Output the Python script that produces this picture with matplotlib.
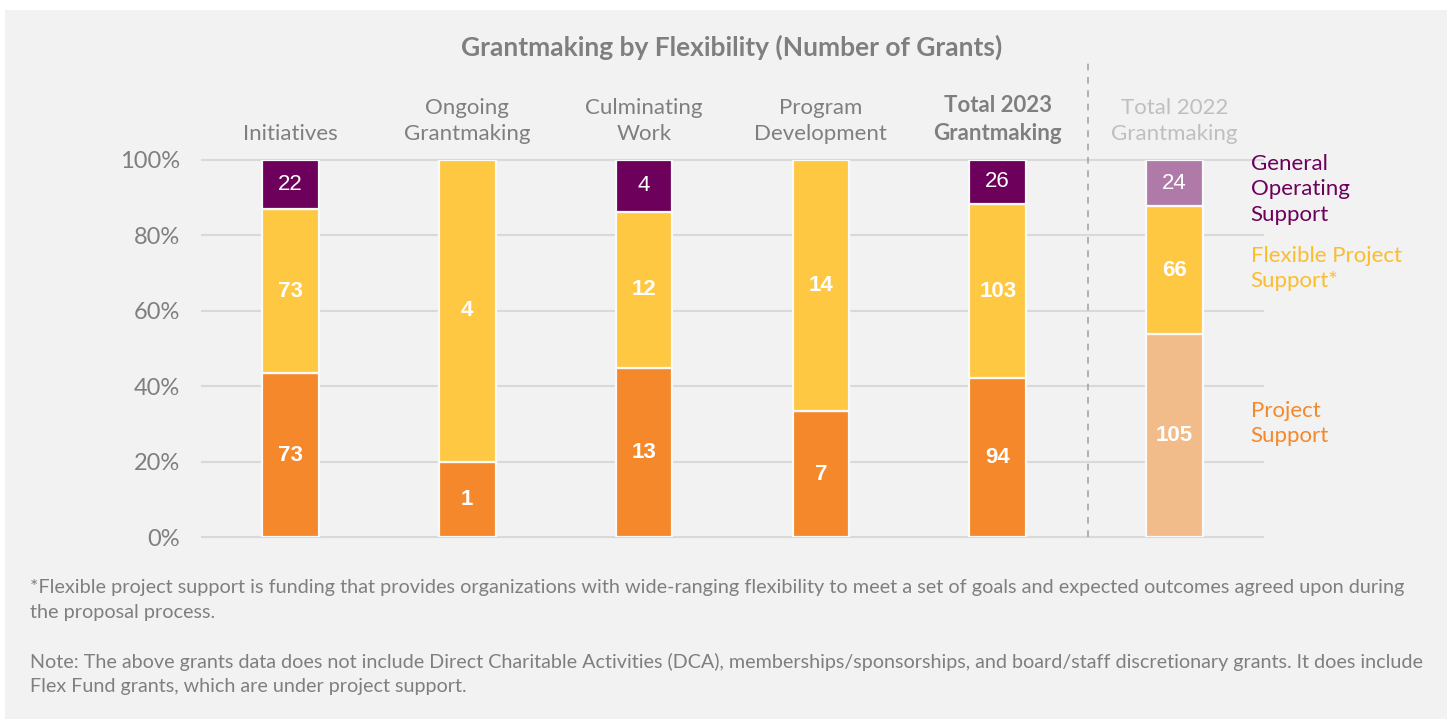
import matplotlib.pyplot as plt
import numpy as np
from matplotlib.patches import Rectangle
from matplotlib.lines import Line2D

# --- data ---
categories = ['Initiatives', 'Ongoing\nGrantmaking', 'Culminating\nWork', 'Program\nDevelopment',
              'Total 2023\nGrantmaking', 'Total 2022\nGrantmaking']
project_support = [73, 1, 13, 7, 94, 105]
flexible_support = [73, 4, 12, 14, 103, 66]
general_operating = [22, 0, 4, 0, 26, 24]
series_names = ['Project\nSupport', 'Flexible Project\nSupport*', 'General\nOperating\nSupport']
y_ticks = [0, 20, 40, 60, 80, 100]

bg = '#f2f2f2'
gray = '#7f7f7f'
col_2023 = ['#f5882a', '#fec843', '#6d005b']
col_2022 = ['#f2bb8a', '#fec843', '#b07aa8']
label_cols = ['#f5882a', '#fbbd2c', '#6d005b']
text_font = 'Lato'
num_font = 'Liberation Sans'

fig = plt.figure(figsize=(14.52, 7.19), dpi=100)
fig.patch.set_facecolor('white')
fig.patches.append(Rectangle((5 / 1452, 0), 1442 / 1452, 709 / 719, transform=fig.transFigure,
                             facecolor=bg, edgecolor='none', zorder=-10))

ax = fig.add_axes([202 / 1452, 1 - 537 / 719, 1061 / 1452, 377 / 719])
ax.set_facecolor('none')

counts = np.array([project_support, flexible_support, general_operating], dtype=float)
pct = counts / counts.sum(axis=0) * 100
x = np.arange(len(categories))
width = 0.32

for yv in y_ticks:
    ax.axhline(yv, color='#d9d9d9', lw=1.5, zorder=0, clip_on=False)

bottom = np.zeros(len(categories))
for s in range(3):
    for i in range(len(categories)):
        if counts[s, i] == 0:
            continue
        c = col_2022[s] if i == len(categories) - 1 else col_2023[s]
        ax.bar(x[i], pct[s, i], width, bottom=bottom[i], color=c, edgecolor='#fafafa',
               linewidth=1.6, zorder=2)
        ax.text(x[i], bottom[i] + pct[s, i] / 2, f'{int(counts[s, i])}', ha='center', va='center',
                color='white', fontsize=16, family=num_font,
                fontweight='normal' if s == 2 else 'bold', zorder=3)
    bottom += pct[s]

ax.set_xlim(-0.5, 5.5)
ax.set_ylim(0, 100)
ax.set_yticks(y_ticks)
ax.set_yticklabels([f'{v}%' for v in y_ticks], fontsize=17, color=gray, family=text_font)
ax.tick_params(axis='y', length=0, pad=16)
ax.set_xticks([])
for sp in ax.spines.values():
    sp.set_visible(False)

# category labels above bars
for i, cat in enumerate(categories):
    col = gray
    weight = 'normal'
    if i == 4:
        weight = 'bold'
    if i == 5:
        col = '#bfbfbf'
    ax.text(x[i], 104.3, cat, ha='center', va='bottom', fontsize=16, color=col,
            fontweight=weight, family=text_font, linespacing=1.38)

# series labels on the right
label_y = [30.2, 71.2, 92.2]
for s in range(3):
    ax.text(5.43, label_y[s], series_names[s], ha='left', va='center', fontsize=16,
            color=label_cols[s], family=text_font, linespacing=1.32)

# dashed separator
fig.add_artist(Line2D([1088 / 1452, 1088 / 1452], [1 - 537 / 719, 1 - 60 / 719],
                      transform=fig.transFigure, color='#a6a6a6', lw=1.2, ls=(0, (4, 4))))

fig.text(732 / 1452, 1 - 47 / 719, 'Grantmaking by Flexibility (Number of Grants)', ha='center',
         va='center', fontsize=19, fontweight='bold', color=gray, family=text_font)

fig.text(30 / 1452, 1 - 600 / 719,
         '*Flexible project support is funding that provides organizations with wide-ranging flexibility '
         'to meet a set of goals and expected outcomes agreed upon during\nthe proposal process.',
         ha='left', va='center', fontsize=14.3, color=gray, family=text_font, linespacing=1.55)
fig.text(30 / 1452, 1 - 674 / 719,
         'Note: The above grants data does not include Direct Charitable Activities (DCA), '
         'memberships/sponsorships, and board/staff discretionary grants. It does include\n'
         'Flex Fund grants, which are under project support.',
         ha='left', va='center', fontsize=14.2, color=gray, family=text_font, linespacing=1.55)

fig.savefig('out.png', dpi=100, facecolor='white')
